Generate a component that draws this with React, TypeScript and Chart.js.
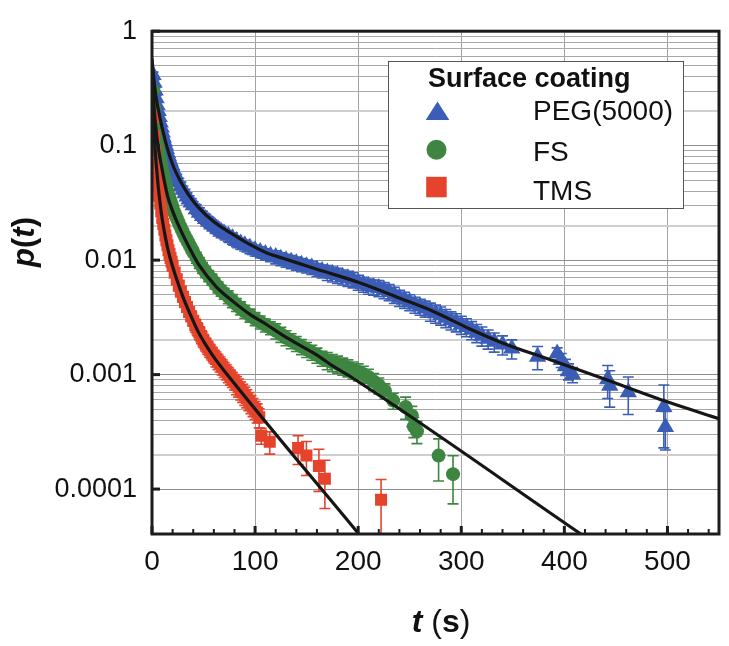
import { useEffect, useRef } from "react";
import { Chart, registerables } from "chart.js";

Chart.register(...registerables);

const FONT = '"Liberation Sans", Arial, Helvetica, sans-serif';
const PEG_COLOR = "#3B5DB6";
const FS_COLOR = "#3D8540";
const TMS_COLOR = "#E5432B";
const FIT_COLOR = "#161616";

// ---------- PEG(5000) ----------
const pegT = [
  1, 2, 3, 4, 5, 6, 7, 8, 9, 10, 11, 12, 13, 14, 15, 16, 17, 18, 19, 20,
  22, 24, 26, 28, 30, 32, 34, 36, 38, 40,
  43, 46, 49, 52, 55, 58, 61, 64, 67, 70,
  74, 78, 82, 86, 90, 95, 100, 105, 110, 115,
  120, 125, 130, 135, 140, 145, 150, 155, 160, 165,
  170, 175, 180, 185, 190, 195, 200, 205, 210, 215,
  220, 225, 230, 235, 240, 245, 250, 255, 260, 265,
  270, 275, 280, 285, 290, 295, 300, 305, 310, 315,
  320, 326, 332, 340, 349,
  374, 393, 397, 401, 404, 408, 442, 444, 462, 496.5, 498,
];
const pegP = [
  0.414, 0.354, 0.303, 0.259, 0.226, 0.201, 0.178, 0.159, 0.144, 0.13, 0.118, 0.109, 0.101, 0.0935, 0.0865, 0.0808, 0.0755, 0.0711, 0.0671, 0.0633,
  0.0574, 0.052, 0.0481, 0.0445, 0.0411, 0.0384, 0.0359, 0.0338, 0.0319, 0.0301,
  0.0278, 0.026, 0.0243, 0.0229, 0.0216, 0.0205, 0.0196, 0.0186, 0.0177, 0.0171,
  0.0163, 0.0155, 0.0147, 0.014, 0.0135, 0.0128, 0.0122, 0.0118, 0.0113, 0.0109,
  0.01067, 0.01026, 0.00996, 0.00968, 0.0094, 0.00912, 0.00886, 0.00861, 0.00827, 0.00803,
  0.0078, 0.00757, 0.00736, 0.00714, 0.00694, 0.00674, 0.00641, 0.00617, 0.00593, 0.00582,
  0.00571, 0.00548, 0.00527, 0.00498, 0.00469, 0.00451, 0.0043, 0.00409, 0.00393, 0.00378,
  0.00357, 0.00343, 0.0033, 0.00314, 0.00299, 0.00288, 0.00274, 0.00261, 0.00246, 0.00232,
  0.00219, 0.00206, 0.00194, 0.00183, 0.00169,
  0.00143, 0.00153, 0.00134, 0.00118, 0.00107, 0.001, 0.00091, 0.0008, 0.0007, 0.00052, 0.000348,
];
// relative error bars, in percent
const pegErr = [
  6, 6, 6, 6, 6, 6, 6, 6, 6, 6, 6, 6, 6, 6, 6, 6, 6, 6, 6, 6,
  8, 8, 8, 8, 8, 8, 8, 8, 8, 8,
  10, 10, 10, 10, 10, 10, 10, 10, 10, 10,
  11, 11, 11, 11, 11, 11, 11, 11, 11, 11,
  13, 13, 13, 13, 13, 13, 13, 13, 13, 13,
  15, 15, 15, 15, 15, 15, 15, 15, 15, 15,
  16, 16, 16, 16, 16, 16, 16, 16, 16, 16,
  18, 18, 18, 18, 18, 18, 18, 18, 18, 18,
  19, 19, 19, 19, 19,
  23, 12, 14, 15, 16, 15, 32, 35, 36, 56, 37,
];
const pegFitT = [0, 2, 4, 6, 10, 15, 20, 28, 36, 45, 60, 77, 93, 112, 127, 160, 200, 241, 273, 309, 338, 387, 435.5, 500.4, 550];
const pegFitP = [0.577, 0.368, 0.264, 0.209, 0.141, 0.094, 0.0685, 0.0481, 0.0366, 0.0289, 0.0216, 0.0171, 0.014, 0.0115, 0.0104, 0.00832, 0.00641, 0.00463, 0.00356, 0.00249, 0.00192, 0.00134, 0.000937, 0.000575, 0.000412];

// ---------- FS ----------
const fsT = [
  1, 2, 3, 4, 5, 6, 7, 8, 9, 10, 11, 12, 13, 14, 15, 16, 17, 18, 19, 20,
  22, 24, 26, 28, 30, 32, 34, 36, 38, 40,
  43, 46, 49, 52, 55, 58, 61, 64, 67, 70,
  74, 78, 82, 86, 90, 95, 100, 105, 110, 115,
  120, 125, 130, 135, 140, 145, 150, 155, 160, 165,
  170, 175, 180, 185, 190, 195, 200, 205, 210, 215,
  220, 226, 234, 246, 252, 254, 257, 278, 292,
];
const fsP = [
  0.303, 0.217, 0.172, 0.138, 0.114, 0.0973, 0.0848, 0.0747, 0.0671, 0.0608, 0.0552, 0.0505, 0.0463, 0.0428, 0.0396, 0.0366, 0.0345, 0.0325, 0.0307, 0.0289,
  0.0257, 0.0233, 0.0211, 0.0192, 0.0176, 0.0161, 0.0149, 0.0138, 0.0127, 0.0118,
  0.01056, 0.00949, 0.0086, 0.00788, 0.00729, 0.0068, 0.00629, 0.00582, 0.00543, 0.00512,
  0.00478, 0.00442, 0.00409, 0.00382, 0.00357, 0.0033, 0.00308, 0.00288, 0.00271, 0.00256,
  0.00241, 0.00225, 0.0021, 0.00198, 0.00187, 0.00176, 0.00166, 0.00157, 0.00148, 0.00139,
  0.00133, 0.00128, 0.00124, 0.00119, 0.00115, 0.0011, 0.00106, 0.00101, 0.000952, 0.000872,
  0.000806, 0.000721, 0.000593, 0.000521, 0.00044, 0.000352, 0.00032, 0.000196, 0.000135,
];
const fsErr = [
  6, 6, 6, 6, 6, 6, 6, 6, 6, 6, 6, 6, 6, 6, 6, 6, 6, 6, 6, 6,
  9, 9, 9, 9, 9, 9, 9, 9, 9, 9,
  11, 11, 11, 11, 11, 11, 11, 11, 11, 11,
  13, 13, 13, 13, 13, 13, 13, 13, 13, 13,
  15, 15, 15, 15, 15, 15, 15, 15, 15, 15,
  17, 17, 17, 17, 17, 17, 17, 17, 17, 17,
  16, 15, 16, 22, 20, 20, 22, 40, 45,
];
const fsFitT = [0, 2, 5, 10, 15, 20, 28, 37, 46, 62.6, 78.8, 95, 111, 127.5, 143.6, 160, 176, 192, 416];
const fsFitP = [0.5, 0.217, 0.1138, 0.0608, 0.0366, 0.0268, 0.0181, 0.01247, 0.00894, 0.00582, 0.00434, 0.00336, 0.00274, 0.00219, 0.0018, 0.00148, 0.00118, 0.000967, 0.0000405];

// ---------- TMS ----------
const tmsT = [
  1, 2, 3, 4, 5, 6, 7, 8, 9, 10, 11, 12, 13, 14, 15, 16, 17, 18, 19, 20,
  22, 24, 26, 28, 30, 32, 34, 36, 38, 40,
  42, 44, 46, 48, 50, 52, 54, 56, 58, 60,
  62, 64, 66, 68, 70, 72, 74, 76, 78, 80,
  82, 84, 86, 88, 90, 92, 94, 96, 98, 100,
  102, 104,
  106, 114.2, 141.7, 149.8, 161.9, 167.7, 222.2,
];
const tmsP = [
  0.178, 0.121, 0.09, 0.0684, 0.0541, 0.0445, 0.0366, 0.0313, 0.0268, 0.0233, 0.0207, 0.0184, 0.0164, 0.0149, 0.0135, 0.0122, 0.0113, 0.01046, 0.00967, 0.00894,
  0.0078, 0.0068, 0.00599, 0.00533, 0.00478, 0.0043, 0.0039, 0.00353, 0.00323, 0.00296,
  0.00271, 0.00251, 0.00232, 0.00214, 0.00198, 0.00185, 0.00173, 0.00163, 0.00154, 0.00145,
  0.00137, 0.0013, 0.00124, 0.00117, 0.00111, 0.00106, 0.001, 0.000952, 0.000907, 0.000864,
  0.000814, 0.000775, 0.000731, 0.000697, 0.000657, 0.000625, 0.00059, 0.000556, 0.000524, 0.000494,
  0.000466, 0.000423,
  0.000293, 0.000259, 0.000228, 0.000196, 0.000159, 0.000123, 0.0000807,
];
const tmsErr = [
  6, 6, 6, 6, 6, 6, 6, 6, 6, 6, 6, 6, 6, 6, 6, 6, 6, 6, 6, 6,
  10, 10, 10, 10, 10, 10, 10, 10, 10, 10,
  13, 13, 13, 13, 13, 13, 13, 13, 13, 13,
  15, 15, 15, 15, 15, 15, 15, 15, 15, 15,
  18, 18, 18, 18, 18, 18, 18, 18, 18, 18,
  19, 19,
  16, 22, 28, 33, 40, 45, 50,
];
const tmsFitT = [0, 1, 2, 3, 4, 6, 8, 10, 13, 16, 20, 23.3, 30, 37.9, 45, 52.5, 60, 70.4, 200.1];
const tmsFitP = [0.35, 0.197, 0.128, 0.0917, 0.0699, 0.0443, 0.0307, 0.0225, 0.0158, 0.0118, 0.0088, 0.00708, 0.00478, 0.00324, 0.00235, 0.0018, 0.00142, 0.00107, 0.000041];

// ---------- axes / legend ----------
const xTickValues = [0, 100, 200, 300, 400, 500];
const xMinorStep = 20;
const xMin = 0;
const xMax = 550;
const yMin = 0.0000405;
const yMax = 1;
const yDecades = [0.0001, 0.001, 0.01, 0.1, 1];
const yTickLabels = ["0.0001", "0.001", "0.01", "0.1", "1"];
const yMinorFactors = [2, 3, 4, 5, 6, 7, 8, 9];
const legendTitle = "Surface coating";
const seriesNames = ["PEG(5000)", "FS", "TMS"];

const toPoints = (t: number[], p: number[]) => t.map((v, i) => ({ x: v, y: p[i] }));

const mantissa = (v: number) => {
  const e = Math.floor(Math.log10(v) + 1e-9);
  return Math.round(v / Math.pow(10, e));
};

const yGridValues: number[] = [];
yDecades.forEach((d, i) => {
  yGridValues.push(d);
  if (i < yDecades.length - 1) yMinorFactors.forEach((f) => yGridValues.push(d * f));
});

const decorPlugin = {
  id: "decor",
  beforeDatasetsDraw(chart: any) {
    const { ctx, chartArea, scales } = chart;
    const xs = scales.x;
    const ys = scales.y;
    ctx.save();
    ctx.beginPath();
    ctx.rect(chartArea.left, chartArea.top, chartArea.right - chartArea.left, chartArea.bottom - chartArea.top);
    ctx.clip();
    chart.data.datasets.forEach((ds: any) => {
      if (!ds.errPct) return;
      ctx.strokeStyle = ds.backgroundColor;
      ctx.lineWidth = 1.6;
      ds.data.forEach((pt: any, i: number) => {
        const e = ds.errPct[i] / 100;
        const px = xs.getPixelForValue(pt.x);
        const yHi = ys.getPixelForValue(pt.y * (1 + e));
        const yLo = ys.getPixelForValue(Math.max(pt.y * (1 - e), 1e-9));
        ctx.beginPath();
        ctx.moveTo(px, yHi);
        ctx.lineTo(px, yLo);
        ctx.moveTo(px - 5.5, yHi);
        ctx.lineTo(px + 5.5, yHi);
        ctx.moveTo(px - 5.5, yLo);
        ctx.lineTo(px + 5.5, yLo);
        ctx.stroke();
      });
    });
    ctx.restore();
  },
  afterDraw(chart: any) {
    const { ctx, chartArea, scales } = chart;
    const xs = scales.x;
    const ys = scales.y;
    const { left, right, top, bottom } = chartArea;
    ctx.save();
    // inward ticks
    ctx.strokeStyle = "#1c1c1c";
    for (let v = xMin; v <= xMax; v += xMinorStep) {
      const px = xs.getPixelForValue(v);
      const major = v % 100 === 0;
      ctx.lineWidth = major ? 3 : 2;
      ctx.beginPath();
      ctx.moveTo(px, bottom);
      ctx.lineTo(px, bottom - (major ? 8 : 5));
      ctx.stroke();
    }
    yDecades.forEach((d) => {
      const py = ys.getPixelForValue(d);
      ctx.lineWidth = 3;
      ctx.beginPath();
      ctx.moveTo(left, py);
      ctx.lineTo(left + 8, py);
      ctx.stroke();
    });
    // frame
    ctx.lineWidth = 3;
    ctx.strokeStyle = "#1c1c1c";
    ctx.strokeRect(left, top, right - left, bottom - top);

    // legend
    const lx = 388, ly = 61, lw = 295, lh = 147;
    ctx.fillStyle = "#ffffff";
    ctx.fillRect(lx, ly, lw, lh);
    ctx.lineWidth = 1;
    ctx.strokeStyle = "#555555";
    ctx.strokeRect(lx + 0.5, ly + 0.5, lw, lh);
    ctx.fillStyle = "#111111";
    ctx.textBaseline = "alphabetic";
    ctx.textAlign = "left";
    ctx.font = `bold 27px ${FONT}`;
    ctx.fillText(legendTitle, 428, 87);
    ctx.font = `28px ${FONT}`;
    const rowBase = [120, 161, 200];
    seriesNames.forEach((n, i) => ctx.fillText(n, 533, rowBase[i]));
    // legend markers
    ctx.fillStyle = PEG_COLOR;
    ctx.beginPath();
    ctx.moveTo(437.5, 101.5);
    ctx.lineTo(449.3, 120);
    ctx.lineTo(425.7, 120);
    ctx.closePath();
    ctx.fill();
    ctx.fillStyle = FS_COLOR;
    ctx.beginPath();
    ctx.arc(436.5, 149.7, 10, 0, Math.PI * 2);
    ctx.fill();
    ctx.fillStyle = TMS_COLOR;
    ctx.fillRect(426.2, 176.8, 20.5, 20.5);

    // axis titles
    ctx.fillStyle = "#111111";
    const parts = (items: [string, string][]) => {
      let w = 0;
      items.forEach(([txt, f]) => {
        ctx.font = f;
        w += ctx.measureText(txt).width;
      });
      return w;
    };
    const xt: [string, string][] = [
      ["t", `italic bold 32px ${FONT}`],
      [" (", `32px ${FONT}`],
      ["s", `bold 32px ${FONT}`],
      [")", `32px ${FONT}`],
    ];
    let cx = 441 - parts(xt) / 2;
    xt.forEach(([txt, f]) => {
      ctx.font = f;
      ctx.fillText(txt, cx, 632);
      cx += ctx.measureText(txt).width;
    });
    const yt: [string, string][] = [
      ["p", `italic bold 31px ${FONT}`],
      ["(", `bold 31px ${FONT}`],
      ["t", `italic bold 31px ${FONT}`],
      [")", `bold 31px ${FONT}`],
    ];
    ctx.translate(34, 242);
    ctx.rotate(-Math.PI / 2);
    let cy = -parts(yt) / 2;
    yt.forEach(([txt, f]) => {
      ctx.font = f;
      ctx.fillText(txt, cy, 0);
      cy += ctx.measureText(txt).width;
    });
    ctx.restore();
  },
};

export default function App() {
  const ref = useRef<HTMLCanvasElement | null>(null);
  useEffect(() => {
    if (!ref.current) return;
    const scatterCommon = { showLine: false, pointBorderWidth: 0 };
    const fitCommon = {
      type: "line",
      borderColor: FIT_COLOR,
      borderWidth: 3.2,
      pointRadius: 0,
      cubicInterpolationMode: "monotone",
      order: 0,
    };
    const chart = new Chart(ref.current, {
      type: "scatter",
      data: {
        datasets: [
          { ...fitCommon, label: "PEG fit", data: toPoints(pegFitT, pegFitP) },
          { ...fitCommon, label: "FS fit", data: toPoints(fsFitT, fsFitP) },
          { ...fitCommon, label: "TMS fit", data: toPoints(tmsFitT, tmsFitP) },
          {
            ...scatterCommon,
            label: seriesNames[0],
            data: toPoints(pegT, pegP),
            backgroundColor: PEG_COLOR,
            borderColor: PEG_COLOR,
            pointStyle: "triangle",
            pointRadius: 10,
            errPct: pegErr,
            order: 3,
          },
          {
            ...scatterCommon,
            label: seriesNames[1],
            data: toPoints(fsT, fsP),
            backgroundColor: FS_COLOR,
            borderColor: FS_COLOR,
            pointStyle: "circle",
            pointRadius: 7,
            errPct: fsErr,
            order: 2,
          },
          {
            ...scatterCommon,
            label: seriesNames[2],
            data: toPoints(tmsT, tmsP),
            backgroundColor: TMS_COLOR,
            borderColor: TMS_COLOR,
            pointStyle: "rect",
            pointRadius: 8.5,
            errPct: tmsErr,
            order: 1,
          },
        ],
      },
      options: {
        animation: false,
        responsive: false,
        maintainAspectRatio: false,
        layout: { padding: { top: 17, right: 10, left: 0, bottom: 0 } },
        plugins: { legend: { display: false }, tooltip: { enabled: false } },
        scales: {
          x: {
            type: "linear",
            min: xMin,
            max: xMax,
            afterBuildTicks: (s: any) => {
              s.ticks = xTickValues.map((v) => ({ value: v }));
            },
            afterFit: (s: any) => {
              s.height = 112;
            },
            grid: { color: "#a3a3a3", lineWidth: 1, drawTicks: false },
            border: { display: false },
            ticks: {
              autoSkip: false,
              maxRotation: 0,
              padding: 11,
              color: "#111111",
              font: { family: FONT, size: 28 },
            },
          },
          y: {
            type: "logarithmic",
            min: yMin,
            max: yMax,
            afterBuildTicks: (s: any) => {
              s.ticks = yGridValues.map((v) => ({ value: v }));
            },
            afterFit: (s: any) => {
              s.width = 152;
            },
            grid: {
              drawTicks: false,
              color: (c: any) => {
                const m = mantissa(c.tick.value);
                return m === 1 ? "#8e8e8e" : m === 2 ? "#cfcfcf" : "#a8a8a8";
              },
              lineWidth: (c: any) => (mantissa(c.tick.value) === 2 ? 2 : 1),
            },
            border: { display: false },
            ticks: {
              autoSkip: false,
              padding: 15,
              color: "#111111",
              font: { family: FONT, size: 27 },
              callback: (v: any) => {
                const idx = yDecades.findIndex((d) => Math.abs(d - Number(v)) / d < 1e-6);
                return idx >= 0 ? yTickLabels[idx] : "";
              },
            },
          },
        },
      },
      plugins: [decorPlugin],
    } as any);
    return () => chart.destroy();
  }, []);
  return (
    <div style={{ position: "absolute", left: 0, top: 0, width: 729, height: 646, background: "#fff" }}>
      <canvas ref={ref} width={729} height={646} style={{ display: "block" }} />
    </div>
  );
}
